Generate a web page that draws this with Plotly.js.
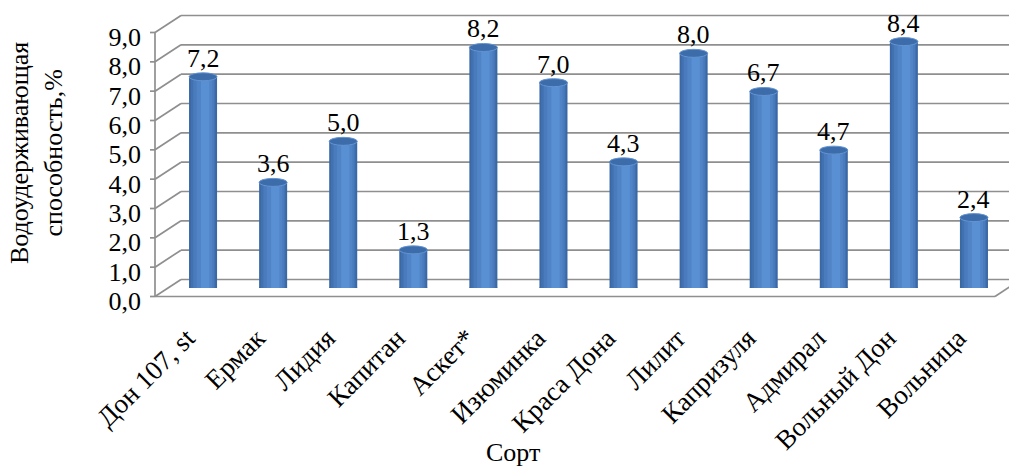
<!DOCTYPE html>
<html>
<head>
<meta charset="utf-8">
<script src="https://cdn.plot.ly/plotly-3.0.1.min.js"></script>
<style>html,body{margin:0;padding:0;background:#fff;}</style>
</head>
<body>
<div id="chart" style="width:1009px;height:471px;"></div>
<script>
// ---- data ----
const categories = ["Дон 107, st", "Ермак", "Лидия", "Капитан", "Аскет*", "Изюминка", "Краса Дона", "Лилит", "Капризуля", "Адмирал", "Вольный Дон", "Вольница"];
const values = [7.2, 3.6, 5.0, 1.3, 8.2, 7.0, 4.3, 8.0, 6.7, 4.7, 8.4, 2.4];
const yTicks = [0, 1, 2, 3, 4, 5, 6, 7, 8, 9];
const yTitle = "Водоудерживающая<br>способность,%";
const xTitle = "Сорт";

// ---- geometry (layout only) ----
const W = 1009, Hh = 471;
const M = {l: 150, r: 0, t: 24, b: 183};
const plotW = W - M.l - M.r, plotH = Hh - M.t - M.b;
const yMax = 9;
const DX = 13, DY = 8.5;
const midLeft = 168;
const frontLeft = midLeft - DX, backLeft = midLeft + DX;
const frontRight = 995;
const Ypx = v => M.t + (yMax - v) / yMax * plotH;
const px = x => (x - M.l) / plotW;
const py = y => (Hh - M.b - y) / plotH;
const gridCol = '#8f8f8f';
const FONT = 'Liberation Serif, Times New Roman, serif';
const FS = 26;

const shapes = [];
function seg(x0, y0, x1, y1, col, w) {
  shapes.push({type: 'line', xref: 'paper', yref: 'paper', x0: px(x0), y0: py(y0), x1: px(x1), y1: py(y1),
    line: {color: col || gridCol, width: w || 1.7}, layer: 'below'});
}
yTicks.forEach(v => {
  const yb = Ypx(v) - DY, yf = Ypx(v) + DY;
  seg(backLeft, yb, W + 5, yb);
  seg(frontLeft, yf, backLeft, yb);
  seg(frontLeft - 5, yf, frontLeft, yf);
});
seg(frontLeft, Ypx(0) + DY, frontLeft, Ypx(yMax) + DY);
seg(frontLeft, Ypx(0) + DY, frontRight, Ypx(0) + DY);
seg(frontRight, Ypx(0) + DY, frontRight + 2 * DX, Ypx(0) - DY);

// cylinder caps
const half = 0.2;
values.forEach((v, i) => {
  shapes.push({type: 'circle', xref: 'x', yref: 'y', ysizemode: 'pixel', yanchor: 0,
    x0: i - half, x1: i + half, y0: -3.5, y1: 3.5,
    fillcolor: '#4677b6', line: {width: 0}, layer: 'below'});
  shapes.push({type: 'circle', xref: 'x', yref: 'y', ysizemode: 'pixel', yanchor: v,
    x0: i - half, x1: i + half, y0: -4, y1: 4,
    fillcolor: '#3d6cab', line: {color: '#6494d2', width: 1}, layer: 'above'});
});

// shaded bar layers (overlay) to suggest a cylinder
const layers = [
  {w: 0.40, off: -0.20, c: '#3a68a5'},
  {w: 0.35, off: -0.175, c: '#4271b0'},
  {w: 0.30, off: -0.14, c: '#497bbd'},
  {w: 0.22, off: -0.09, c: '#5084c7'},
  {w: 0.12, off: -0.03, c: '#5890d3'}
];
const traces = layers.map(L => ({
  type: 'bar', x: categories, y: values,
  width: L.w, offset: L.off,
  marker: {color: L.c, line: {width: 0}},
  hoverinfo: 'skip', showlegend: false
}));

const fmt = v => v.toFixed(1).replace('.', ',');
const annotations = values.map((v, i) => ({
  text: fmt(v), x: categories[i], y: v, xref: 'x', yref: 'y',
  xanchor: 'center', yanchor: 'bottom', yshift: 2, showarrow: false,
  font: {family: FONT, size: FS, color: '#000'}
}));
annotations.push(
  {text: yTitle, xref: 'paper', yref: 'paper', x: px(36), y: py(153), xanchor: 'center', yanchor: 'middle',
   textangle: -90, showarrow: false, font: {family: FONT, size: FS, color: '#000'}},
  {text: xTitle, xref: 'paper', yref: 'paper', x: px(513), y: py(469), xanchor: 'center', yanchor: 'bottom',
   showarrow: false, font: {family: FONT, size: FS, color: '#000'}}
);

const layout = {
  width: W, height: Hh,
  margin: M,
  paper_bgcolor: '#fff', plot_bgcolor: 'rgba(0,0,0,0)',
  separators: ', ',
  font: {family: FONT, size: FS, color: '#000'},
  barmode: 'overlay',
  showlegend: false,
  xaxis: {
    type: 'category', categoryorder: 'array', categoryarray: categories,
    domain: [px(midLeft), 1], range: [-0.5, categories.length - 0.5],
    showgrid: false, zeroline: false, showline: false, ticks: '',
    tickangle: -45, ticklabelstandoff: 28, ticklabelshift: -16,
    tickfont: {family: FONT, size: 27, color: '#000'}
  },
  yaxis: {
    range: [0, yMax], tickvals: yTicks, tickformat: '.1f',
    showgrid: false, zeroline: false, showline: false, ticks: '',
    ticklabelstandoff: 26, ticklabelshift: 13,
    tickfont: {family: FONT, size: FS, color: '#000'}
  },
  shapes: shapes,
  annotations: annotations
};

Plotly.newPlot('chart', traces, layout, {displayModeBar: false, staticPlot: true});
</script>
</body>
</html>
